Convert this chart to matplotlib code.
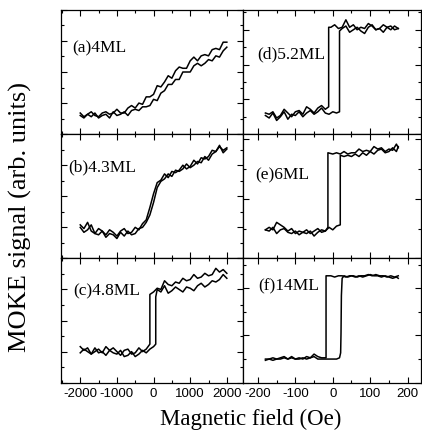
import matplotlib
matplotlib.use('Agg')
import matplotlib.pyplot as plt
from matplotlib.ticker import MultipleLocator, NullFormatter

plt.rcParams['font.family'] = ['Liberation Sans', 'DejaVu Sans']
plt.rcParams['axes.unicode_minus'] = False

# sweep branches, y is signal as a fraction of the panel height
xa = [-2000, -1900, -1800, -1700, -1600, -1500, -1400, -1300, -1200, -1100, -1000,
      -900, -800, -700, -600, -500, -400, -300, -200, -100, 0,
      100, 200, 300, 400, 500, 600, 700, 800, 900, 1000,
      1100, 1200, 1300, 1400, 1500, 1600, 1700, 1800, 1900, 2000]
a_down = [0.17, 0.14, 0.16, 0.18, 0.15, 0.14, 0.17, 0.18, 0.16, 0.17, 0.20,
          0.17, 0.17, 0.21, 0.23, 0.21, 0.25, 0.24, 0.30, 0.30, 0.32,
          0.39, 0.38, 0.42, 0.47, 0.45, 0.51, 0.54, 0.53, 0.53, 0.59,
          0.62, 0.59, 0.63, 0.64, 0.63, 0.68, 0.69, 0.68, 0.74, 0.74]
a_up = [0.15, 0.13, 0.16, 0.14, 0.17, 0.13, 0.15, 0.16, 0.13, 0.18, 0.15,
        0.16, 0.18, 0.15, 0.19, 0.20, 0.19, 0.22, 0.22, 0.23, 0.28,
        0.27, 0.33, 0.35, 0.40, 0.40, 0.44, 0.44, 0.50, 0.50, 0.50,
        0.55, 0.57, 0.55, 0.57, 0.60, 0.59, 0.63, 0.62, 0.67, 0.70]

b_down = [0.27, 0.24, 0.29, 0.22, 0.20, 0.24, 0.22, 0.19, 0.23, 0.21, 0.18,
          0.22, 0.24, 0.20, 0.21, 0.25, 0.23, 0.28, 0.31, 0.41, 0.52,
          0.61, 0.63, 0.68, 0.65, 0.70, 0.69, 0.71, 0.75, 0.72, 0.74,
          0.79, 0.76, 0.81, 0.80, 0.82, 0.87, 0.86, 0.90, 0.87, 0.89]
b_up = [0.25, 0.21, 0.23, 0.27, 0.20, 0.19, 0.22, 0.17, 0.20, 0.19, 0.16,
        0.21, 0.18, 0.22, 0.19, 0.20, 0.24, 0.25, 0.29, 0.35, 0.45,
        0.57, 0.62, 0.64, 0.68, 0.66, 0.71, 0.70, 0.72, 0.76, 0.73,
        0.75, 0.78, 0.77, 0.82, 0.79, 0.84, 0.86, 0.91, 0.85, 0.88]

xc_down = [2000, 1900, 1800, 1700, 1600, 1500, 1400, 1300, 1200, 1100, 1000,
           900, 800, 700, 600, 500, 400, 300, 200, 100, 0, -100,
           -100, -200, -300, -400, -500, -600, -700, -800, -900, -1000,
           -1100, -1200, -1300, -1400, -1500, -1600, -1700, -1800, -1900, -2000]
c_down = [0.88, 0.91, 0.89, 0.92, 0.87, 0.86, 0.88, 0.85, 0.84, 0.87, 0.83,
          0.82, 0.84, 0.80, 0.81, 0.78, 0.79, 0.82, 0.75, 0.76, 0.73, 0.71,
          0.31, 0.27, 0.25, 0.28, 0.24, 0.23, 0.27, 0.26, 0.22, 0.25,
          0.28, 0.26, 0.29, 0.24, 0.27, 0.25, 0.23, 0.28, 0.26, 0.29]
xc_up = [-2000, -1900, -1800, -1700, -1600, -1500, -1400, -1300, -1200, -1100, -1000,
         -900, -800, -700, -600, -500, -400, -300, -200, -100, 0, 60,
         60, 100, 200, 300, 400, 500, 600, 700, 800, 900, 1000,
         1100, 1200, 1300, 1400, 1500, 1600, 1700, 1800, 1900, 2000]
c_up = [0.24, 0.27, 0.25, 0.23, 0.28, 0.24, 0.25, 0.22, 0.26, 0.24, 0.23,
        0.26, 0.21, 0.22, 0.25, 0.21, 0.23, 0.26, 0.24, 0.27, 0.29, 0.31,
        0.69, 0.75, 0.73, 0.78, 0.72, 0.74, 0.77, 0.75, 0.73, 0.77, 0.76,
        0.74, 0.78, 0.80, 0.77, 0.79, 0.82, 0.81, 0.83, 0.87, 0.84]

xd_down = [175, 165, 155, 145, 135, 125, 115, 105, 95, 85, 75, 65, 55, 45, 35, 25, 15, 5, -5, -11,
           -11, -20, -30, -40, -50, -60, -70, -80, -90, -100, -110, -120, -130, -140, -150, -160, -170, -180]
d_down = [0.85, 0.87, 0.84, 0.86, 0.88, 0.85, 0.84, 0.87, 0.89, 0.85, 0.86, 0.84, 0.88, 0.86, 0.92, 0.86, 0.85, 0.88, 0.86, 0.86,
          0.22, 0.20, 0.23, 0.21, 0.17, 0.20, 0.22, 0.16, 0.19, 0.18, 0.14, 0.17, 0.20, 0.15, 0.13, 0.18, 0.16, 0.17]
xd_up = [-180, -170, -160, -150, -140, -130, -120, -110, -100, -90, -80, -70, -60, -50, -40, -30, -20, -10, 0, 10, 18,
         18, 25, 35, 45, 55, 65, 75, 85, 95, 105, 115, 125, 135, 145, 155, 165, 175]
d_up = [0.15, 0.13, 0.17, 0.11, 0.14, 0.18, 0.12, 0.16, 0.15, 0.18, 0.14, 0.17, 0.19, 0.16, 0.18, 0.21, 0.17, 0.16, 0.18, 0.17, 0.18,
        0.83, 0.85, 0.87, 0.82, 0.84, 0.86, 0.83, 0.81, 0.86, 0.88, 0.84, 0.85, 0.82, 0.86, 0.87, 0.84, 0.85]

xe_down = [175, 170, 160, 150, 140, 130, 120, 110, 100, 90, 80, 70, 60, 50, 40, 30, 20, 10, 0, -13,
           -13, -20, -30, -40, -50, -60, -70, -80, -90, -100, -110, -120, -130, -140, -150, -160, -170, -180]
e_down = [0.89, 0.92, 0.87, 0.88, 0.86, 0.89, 0.88, 0.90, 0.86, 0.87, 0.86, 0.88, 0.85, 0.85, 0.84, 0.86, 0.84, 0.85, 0.84, 0.85,
          0.25, 0.22, 0.21, 0.24, 0.22, 0.20, 0.23, 0.21, 0.22, 0.20, 0.24, 0.22, 0.25, 0.27, 0.29, 0.23, 0.25, 0.23]
xe_up = [-180, -170, -160, -150, -140, -130, -120, -110, -100, -90, -80, -70, -60, -50, -40, -30, -20, -10, 0, 10, 20,
         20, 30, 40, 50, 60, 70, 80, 90, 100, 110, 120, 130, 140, 150, 160, 170, 175]
e_up = [0.23, 0.22, 0.25, 0.20, 0.23, 0.24, 0.21, 0.20, 0.22, 0.19, 0.21, 0.20, 0.22, 0.18, 0.21, 0.23, 0.22, 0.25, 0.23, 0.26, 0.27,
        0.83, 0.82, 0.83, 0.82, 0.84, 0.82, 0.85, 0.83, 0.86, 0.84, 0.87, 0.88, 0.85, 0.86, 0.89, 0.86, 0.90]

xf_down = [175, 165, 155, 145, 135, 125, 115, 105, 95, 85, 75, 65, 55, 45, 35, 25, 15, 5, -5, -18,
           -18, -30, -40, -50, -60, -70, -80, -90, -100, -110, -120, -130, -140, -150, -160, -170, -180]
f_down = [0.86, 0.85, 0.86, 0.85, 0.86, 0.86, 0.87, 0.86, 0.87, 0.86, 0.86, 0.85, 0.86, 0.86, 0.85, 0.86, 0.86, 0.85, 0.86, 0.86,
          0.20, 0.20, 0.21, 0.23, 0.20, 0.21, 0.19, 0.20, 0.19, 0.21, 0.19, 0.21, 0.20, 0.19, 0.20, 0.19, 0.19]
xf_up = [-180, -170, -160, -150, -140, -130, -120, -110, -100, -90, -80, -70, -60, -50, -40, -30, -20, -10, 0, 10, 18,
         21, 22, 23, 25, 30, 40, 50, 60, 70, 80, 90, 100, 110, 120, 130, 140, 150, 160, 170, 175]
f_up = [0.18, 0.19, 0.18, 0.19, 0.19, 0.20, 0.19, 0.20, 0.19, 0.19, 0.20, 0.19, 0.20, 0.21, 0.19, 0.19, 0.19, 0.19, 0.19, 0.19, 0.20,
        0.24, 0.40, 0.70, 0.84, 0.86, 0.85, 0.86, 0.85, 0.86, 0.85, 0.86, 0.87, 0.86, 0.86, 0.85, 0.86, 0.85, 0.84, 0.85, 0.84]

labels = ['(a)4ML', '(b)4.3ML', '(c)4.8ML', '(d)5.2ML', '(e)6ML', '(f)14ML']
xlab = 'Magnetic field (Oe)'
ylab = 'MOKE signal (arb. units)'

panels = [
    (xa, a_down, xa, a_up), (xa, b_down, xa, b_up), (xc_down, c_down, xc_up, c_up),
    (xd_down, d_down, xd_up, d_up), (xe_down, e_down, xe_up, e_up), (xf_down, f_down, xf_up, f_up),
]
label_pos = [(0.06, 0.70), (0.04, 0.74), (0.066, 0.74), (0.08, 0.65), (0.07, 0.68), (0.085, 0.78)]
ystep = [0.125, 0.125, 0.125, 0.14, 0.24, 0.19]

serif = ['Liberation Serif', 'DejaVu Serif']
fig = plt.figure(figsize=(4.22, 4.35), dpi=100)
gs = fig.add_gridspec(3, 2, left=0.145, right=0.997, top=0.975, bottom=0.118,
                      wspace=0, hspace=0, width_ratios=[182, 178])

for i in range(6):
    col, row = divmod(i, 3)
    ax = fig.add_subplot(gs[row, col])
    x1, y1, x2, y2 = panels[i]
    ax.plot(x1, y1, color='black', lw=1.1)
    ax.plot(x2, y2, color='black', lw=1.1)
    if col == 0:
        ax.set_xlim(-2520, 2440)
        ax.xaxis.set_major_locator(MultipleLocator(1000))
        ax.xaxis.set_minor_locator(MultipleLocator(500))
    else:
        ax.set_xlim(-240, 235)
        ax.xaxis.set_major_locator(MultipleLocator(100))
        ax.xaxis.set_minor_locator(MultipleLocator(50))
    ax.set_ylim(0, 1)
    ax.yaxis.set_major_locator(MultipleLocator(ystep[i] * 2))
    ax.yaxis.set_minor_locator(MultipleLocator(ystep[i]))
    ax.yaxis.set_major_formatter(NullFormatter())
    ax.tick_params(which='both', direction='in', top=True, right=True, width=0.8)
    ax.tick_params(which='major', length=4)
    ax.tick_params(which='minor', length=2)
    if row < 2:
        ax.xaxis.set_major_formatter(NullFormatter())
    else:
        ax.tick_params(axis='x', labelsize=9.5, pad=3)
    for s in ax.spines.values():
        s.set_linewidth(0.9)
    ax.text(label_pos[i][0], label_pos[i][1], labels[i], transform=ax.transAxes,
            fontsize=12.5, family=serif, va='center', ha='left')

fig.text(0.595, 0.035, xlab, fontsize=16.5, family=serif, ha='center', va='center')
fig.text(0.048, 0.50, ylab, fontsize=19, family=serif, ha='center', va='center', rotation=90)

fig.savefig('out.png', dpi=100)
